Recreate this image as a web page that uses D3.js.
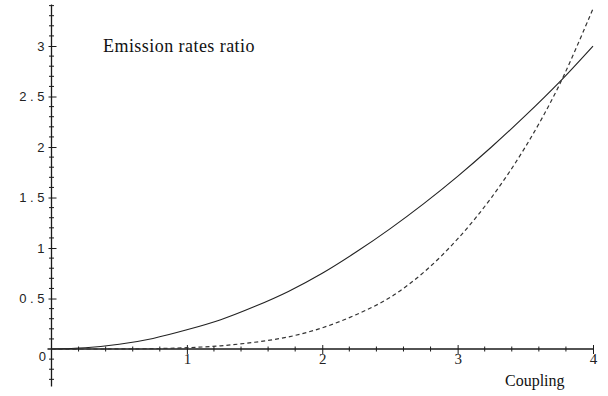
<!DOCTYPE html>
<html>
<head>
<meta charset="utf-8">
<script src="https://cdn.jsdelivr.net/npm/d3@7"></script>
<style>
  body { margin: 0; background: #fff; }
  svg { display: block; }
</style>
</head>
<body>
<div id="chart"></div>
<script>
// coupling values (x) and the two ratio curves
var coupling = [0, 0.25, 0.5, 0.75, 1, 1.25, 1.5, 1.75, 2, 2.25, 2.5, 2.75, 3, 3.25, 3.5, 3.75, 4];
var solidRatio = [0, 0.012, 0.047, 0.105, 0.19, 0.29, 0.42, 0.57, 0.75, 0.96, 1.19, 1.44, 1.71, 2.0, 2.31, 2.64, 3.0];
var dashedRatio = [0, 0.0001, 0.001, 0.004, 0.013, 0.032, 0.067, 0.12, 0.21, 0.34, 0.51, 0.76, 1.09, 1.50, 2.0, 2.61, 3.37];
var xTicks = [1, 2, 3, 4];
var yTicks = [0.5, 1, 1.5, 2, 2.5, 3];

var w = 608, h = 396;

var svg = d3.select('#chart').append('svg')
    .attr('width', w).attr('height', h);

var x = d3.scaleLinear().domain([0, 4]).range([51.5, 593]);
var y = d3.scaleLinear().domain([-0.37, 3.41]).range([386.4, 4.6]);

var ink = '#1a1a1a';

// y axis
var yAxis = svg.append('g')
    .attr('transform', 'translate(' + x(0) + ',0)')
    .call(d3.axisLeft(y)
        .tickValues(yTicks)
        .tickSizeInner(4)
        .tickSizeOuter(0)
        .tickFormat(function (d) { return String(d).split('').join(' '); }));
yAxis.select('.domain').remove();
yAxis.selectAll('.tick line').attr('x1', -3).attr('x2', 5).attr('stroke', ink);
yAxis.selectAll('.tick text')
    .attr('x', -7)
    .style('font-family', '"Liberation Sans", Arial, sans-serif')
    .style('font-size', '13px')
    .attr('fill', '#222');

svg.append('line')
    .attr('x1', x(0)).attr('x2', x(0))
    .attr('y1', y(-0.37)).attr('y2', y(3.41))
    .attr('stroke', ink).attr('stroke-width', 1.3);

var yMinor = d3.range(-3, 35).map(function (i) { return i / 10; })
    .filter(function (v) { return Math.abs(v * 2 - Math.round(v * 2)) > 1e-6; });
svg.append('g').selectAll('line').data(yMinor).enter().append('line')
    .attr('x1', x(0) - 2.5).attr('x2', x(0) + 2.5)
    .attr('y1', function (d) { return y(d); }).attr('y2', function (d) { return y(d); })
    .attr('stroke', ink).attr('stroke-width', 1);

svg.append('text')
    .attr('x', 46).attr('y', y(0) + 12)
    .attr('text-anchor', 'end')
    .style('font-family', '"Liberation Sans", Arial, sans-serif')
    .style('font-size', '13px')
    .attr('fill', '#222')
    .text('0');

// x axis
svg.append('line')
    .attr('x1', x(0) - 4).attr('x2', x(4))
    .attr('y1', y(0)).attr('y2', y(0))
    .attr('stroke', ink).attr('stroke-width', 1.5);

var xMinor = d3.range(1, 21).map(function (i) { return i / 5; })
    .filter(function (v) { return Math.abs(v - Math.round(v)) > 1e-6; });
svg.append('g').selectAll('line').data(xMinor).enter().append('line')
    .attr('x1', function (d) { return x(d); }).attr('x2', function (d) { return x(d); })
    .attr('y1', y(0) - 2.5).attr('y2', y(0) + 2.5)
    .attr('stroke', ink).attr('stroke-width', 1);

var xAxis = svg.append('g')
    .attr('transform', 'translate(0,' + y(0) + ')')
    .call(d3.axisBottom(x).tickValues(xTicks).tickSizeInner(4).tickSizeOuter(0).tickFormat(d3.format('d')));
xAxis.select('.domain').remove();
xAxis.selectAll('.tick line').attr('y1', -4).attr('y2', 5).attr('stroke', ink);
xAxis.selectAll('.tick text')
    .attr('y', 4)
    .style('font-family', '"Liberation Serif", "Times New Roman", serif')
    .style('font-size', '15px')
    .attr('fill', '#222');

// curves
var line = d3.line()
    .x(function (d) { return x(d[0]); })
    .y(function (d) { return y(d[1]); })
    .curve(d3.curveCatmullRom);

svg.append('path')
    .datum(d3.zip(coupling, solidRatio))
    .attr('d', line)
    .attr('fill', 'none')
    .attr('stroke', '#222')
    .attr('stroke-width', 1.1);

svg.append('path')
    .datum(d3.zip(coupling, dashedRatio))
    .attr('d', line)
    .attr('fill', 'none')
    .attr('stroke', '#333')
    .attr('stroke-width', 1.2)
    .attr('stroke-dasharray', '4,3');

// labels
svg.append('text')
    .attr('x', 103).attr('y', 52)
    .style('font-family', '"Liberation Serif", "Times New Roman", serif')
    .style('font-size', '18px')
    .style('letter-spacing', '0.45px')
    .attr('fill', '#111')
    .text('Emission rates ratio');

svg.append('text')
    .attr('x', 505).attr('y', 386)
    .style('font-family', '"Liberation Serif", "Times New Roman", serif')
    .style('font-size', '16px')
    .attr('fill', '#111')
    .text('Coupling');
</script>
</body>
</html>
